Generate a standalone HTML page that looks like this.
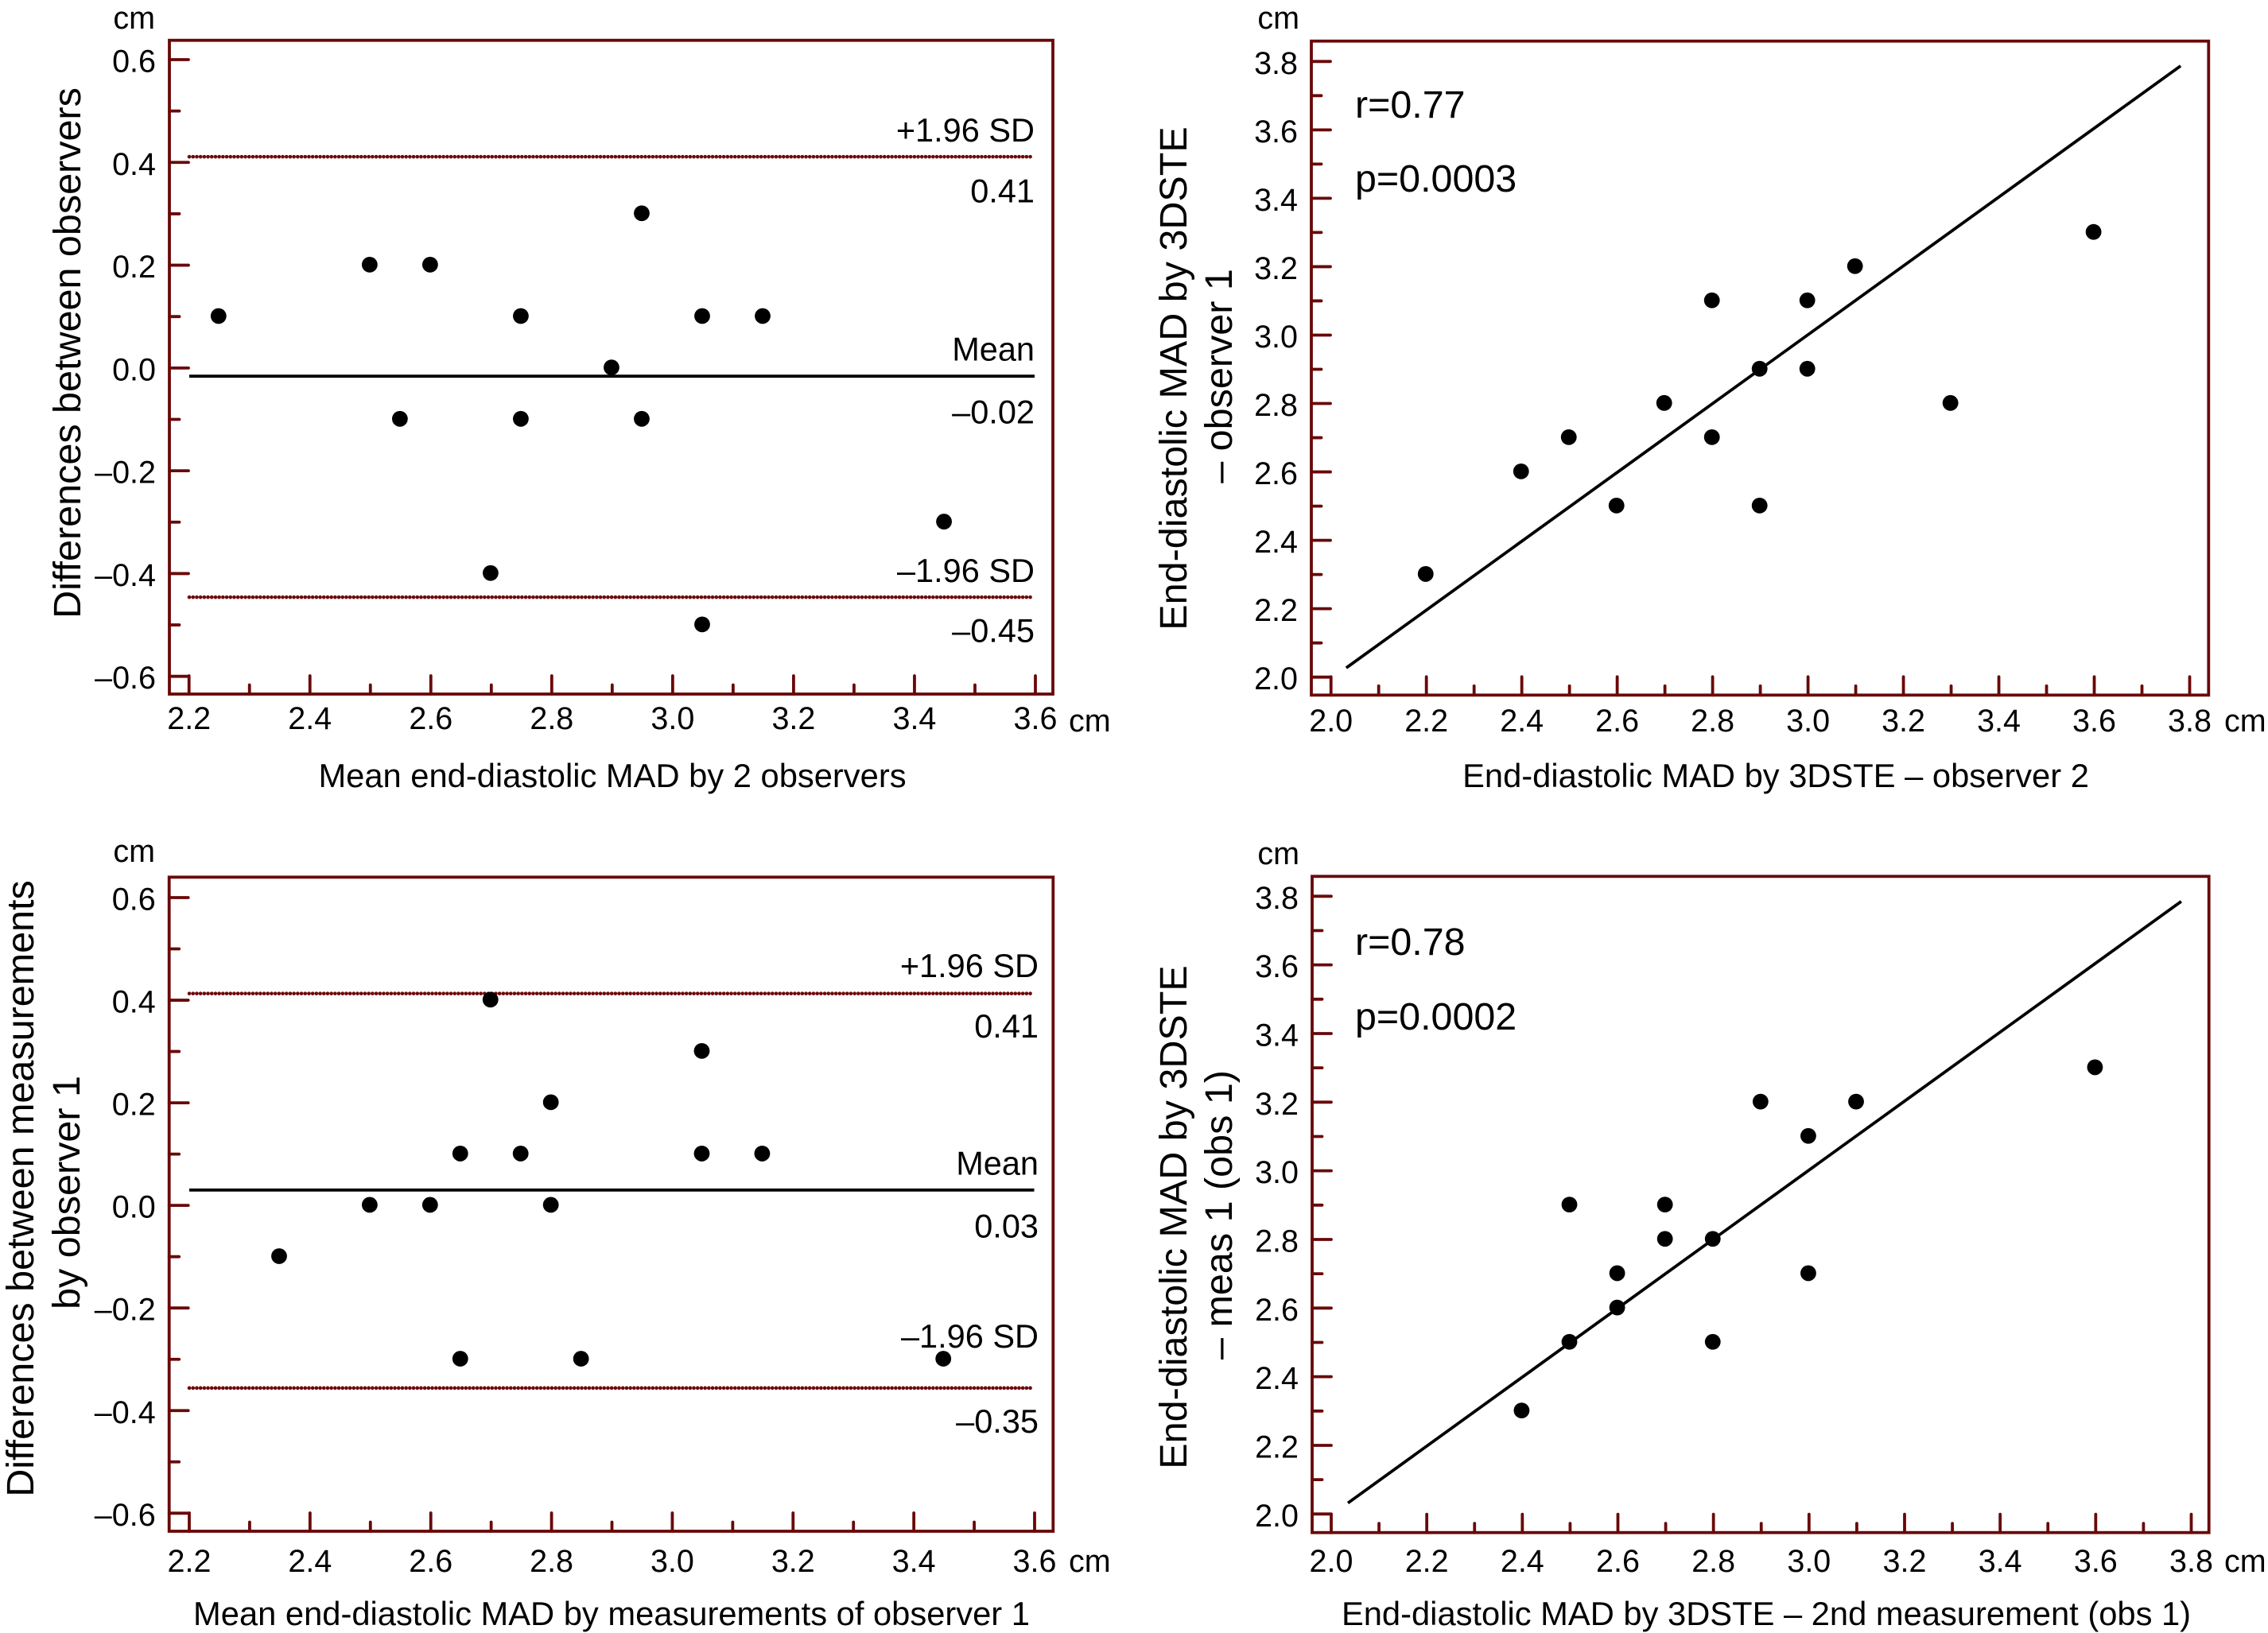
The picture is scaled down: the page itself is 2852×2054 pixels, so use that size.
<!DOCTYPE html>
<html lang="en">
<head>
<meta charset="utf-8">
<title>Bland-Altman and correlation plots of end-diastolic MAD</title>
<style>
html,body{margin:0;padding:0;background:#fff;}
svg{display:block;}
text{font-family:"Liberation Sans",Arial,sans-serif;fill:#000;}
.tick{font-size:39.5px;}
.note{font-size:41.5px;text-anchor:end;}
.title{font-size:41.7px;text-anchor:middle;}
.ytitle{font-size:48.5px;text-anchor:middle;}
.stat{font-size:48.4px;}
</style>
</head>
<body>
<svg id="figure" xmlns="http://www.w3.org/2000/svg" width="2852" height="2054" viewBox="0 0 2852 2054">
  <rect width="2852" height="2054" fill="#fff"/>

  <g id="panel-1">
    <text class="tick" x="195" y="36" text-anchor="end">cm</text>
    <text class="tick" x="1344" y="920">cm</text>
    <text class="title" x="770" y="990">Mean end-diastolic MAD by 2 observers</text>
    <text class="ytitle" transform="translate(101 444) rotate(-90)">Differences between observers</text>
    <text class="note" x="1301" y="178">+1.96 SD</text>
    <text class="note" x="1301" y="254.5">0.41</text>
    <text class="note" x="1301" y="453.5">Mean</text>
    <text class="note" x="1301" y="532.5">–0.02</text>
    <text class="note" x="1301" y="732">–1.96 SD</text>
    <text class="note" x="1301" y="807.5">–0.45</text>
  </g>

  <g id="panel-2">
    <text class="tick" x="1634" y="36" text-anchor="end">cm</text>
    <text class="tick" x="2797" y="920">cm</text>
    <text class="title" x="2233" y="990">End-diastolic MAD by 3DSTE – observer 2</text>
    <text class="ytitle" transform="translate(1492 476) rotate(-90)">End-diastolic MAD by 3DSTE</text>
    <text class="ytitle" transform="translate(1549 473) rotate(-90)">– observer 1</text>
    <text class="stat" x="1704" y="148">r=0.77</text>
    <text class="stat" x="1704" y="241">p=0.0003</text>
  </g>

  <g id="panel-3">
    <text class="tick" x="195" y="1084" text-anchor="end">cm</text>
    <text class="tick" x="1344" y="1977">cm</text>
    <text class="title" x="769" y="2044">Mean end-diastolic MAD by measurements of observer 1</text>
    <text class="ytitle" transform="translate(42 1495) rotate(-90)">Differences between measurements</text>
    <text class="ytitle" transform="translate(100 1500) rotate(-90)">by observer 1</text>
    <text class="note" x="1306" y="1229">+1.96 SD</text>
    <text class="note" x="1306" y="1305">0.41</text>
    <text class="note" x="1306" y="1477.5">Mean</text>
    <text class="note" x="1306" y="1556.5">0.03</text>
    <text class="note" x="1306" y="1695">–1.96 SD</text>
    <text class="note" x="1306" y="1802">–0.35</text>
  </g>

  <g id="panel-4">
    <text class="tick" x="1634" y="1087" text-anchor="end">cm</text>
    <text class="tick" x="2797" y="1977">cm</text>
    <text class="title" x="2221" y="2044">End-diastolic MAD by 3DSTE – 2nd measurement (obs 1)</text>
    <text class="ytitle" transform="translate(1492 1531) rotate(-90)">End-diastolic MAD by 3DSTE</text>
    <text class="ytitle" transform="translate(1549 1528) rotate(-90)">– meas 1 (obs 1)</text>
    <text class="stat" x="1704" y="1201">r=0.78</text>
    <text class="stat" x="1704" y="1295">p=0.0002</text>
  </g>
</svg>

<script>
// ---- Tick values ----
const diffMajorTicks = [-0.6, -0.4, -0.2, 0.0, 0.2, 0.4, 0.6];
const diffMinorTicks = [-0.5, -0.3, -0.1, 0.1, 0.3, 0.5];
const diffTickLabels = ['–0.6', '–0.4', '–0.2', '0.0', '0.2', '0.4', '0.6'];
const meanMajorTicks = [2.2, 2.4, 2.6, 2.8, 3.0, 3.2, 3.4, 3.6];
const meanMinorTicks = [2.3, 2.5, 2.7, 2.9, 3.1, 3.3, 3.5];
const meanTickLabels = ['2.2', '2.4', '2.6', '2.8', '3.0', '3.2', '3.4', '3.6'];
const madMajorTicks = [2.0, 2.2, 2.4, 2.6, 2.8, 3.0, 3.2, 3.4, 3.6, 3.8];
const madMinorTicks = [2.1, 2.3, 2.5, 2.7, 2.9, 3.1, 3.3, 3.5, 3.7];
const madTickLabels = ['2.0', '2.2', '2.4', '2.6', '2.8', '3.0', '3.2', '3.4', '3.6', '3.8'];

// ---- Panel 1: differences between observers ----
const p1Mean = [2.25, 2.5, 2.6, 2.55, 2.75, 2.75, 2.7, 2.9, 2.95, 2.95, 3.05, 3.05, 3.15, 3.45];
const p1Diff = [0.1, 0.2, 0.2, -0.1, 0.1, -0.1, -0.4, 0.0, 0.3, -0.1, 0.1, -0.5, 0.1, -0.3];
const p1UpperLimit = 0.411;
const p1MeanDiff = -0.016;
const p1LowerLimit = -0.446;

// ---- Panel 2: observer 1 vs observer 2 ----
const p2Obs2 = [2.2, 2.4, 2.5, 2.6, 2.7, 2.8, 2.8, 2.9, 2.9, 3.0, 3.0, 3.1, 3.3, 3.6];
const p2Obs1 = [2.3, 2.6, 2.7, 2.5, 2.8, 3.1, 2.7, 2.9, 2.5, 3.1, 2.9, 3.2, 2.8, 3.3];
const p2FitX = [2.032, 3.781];
const p2FitY = [2.027, 3.787];

// ---- Panel 3: differences between measurements ----
const p3Mean = [2.35, 2.5, 2.6, 2.65, 2.65, 2.7, 2.75, 2.8, 2.8, 2.85, 3.05, 3.05, 3.15, 3.45];
const p3Diff = [-0.1, 0.0, 0.0, 0.1, -0.3, 0.4, 0.1, 0.2, 0.0, -0.3, 0.3, 0.1, 0.1, -0.3];
const p3UpperLimit = 0.413;
const p3MeanDiff = 0.03;
const p3LowerLimit = -0.356;

// ---- Panel 4: measurement 1 vs measurement 2 ----
const p4Meas2 = [2.4, 2.5, 2.5, 2.6, 2.6, 2.7, 2.7, 2.8, 2.8, 2.9, 3.0, 3.0, 3.1, 3.6];
const p4Meas1 = [2.3, 2.9, 2.5, 2.7, 2.6, 2.9, 2.8, 2.8, 2.5, 3.2, 3.1, 2.7, 3.2, 3.3];
const p4FitX = [2.035, 3.779];
const p4FitY = [2.032, 3.785];

const NS = 'http://www.w3.org/2000/svg';
const AXIS_COLOR = '#690808';
const MAJOR_LEN = 24;
const MINOR_LEN = 12.5;

function svgEl(tag, attrs, parent) {
  const el = document.createElementNS(NS, tag);
  for (const k in attrs) el.setAttribute(k, attrs[k]);
  parent.appendChild(el);
  return el;
}

function linearScale(v0, p0, v1, p1) {
  return function (v) { return p0 + (v - v0) * (p1 - p0) / (v1 - v0); };
}

function drawFrame(g, b) {
  const el = svgEl('rect', {x: b.left, y: b.top, width: b.right - b.left, height: b.bottom - b.top, fill: 'none', stroke: AXIS_COLOR, 'stroke-width': 3.8}, g);
  
  
}

function drawXTick(g, b, px, len) {
  const el = svgEl('line', {x1: px, x2: px, y1: b.bottom, y2: b.bottom - len, stroke: AXIS_COLOR, 'stroke-width': 3.8, 'stroke-linecap': 'round'}, g);
  
  
}

function drawYTick(g, b, py, len) {
  const el = svgEl('line', {x1: b.left, x2: b.left + len, y1: py, y2: py, stroke: AXIS_COLOR, 'stroke-width': 3.8, 'stroke-linecap': 'round'}, g);
  
  
}

function drawXLabel(g, px, baseline, txt) {
  const el = svgEl('text', {x: px, y: baseline, 'text-anchor': 'middle', class: 'tick'}, g);
  el.textContent = txt;
  
  
}

function drawYLabel(g, px, py, txt) {
  const el = svgEl('text', {x: px, y: py + 15.5, 'text-anchor': 'end', class: 'tick'}, g);
  el.textContent = txt;
  
  
}

function drawDot(g, px, py) {
  const el = svgEl('circle', {cx: px - 0.9, cy: py - 0.7, r: 9.9, fill: '#000'}, g);
  
  
}

function drawLimit(g, x1, x2, py) {
  const el = svgEl('line', {x1: x1, x2: x2, y1: py, y2: py, stroke: '#6d0a0a', 'stroke-width': 4.6, 'stroke-linecap': 'round', 'stroke-dasharray': '0.1 4.6'}, g);
  
  
}

function drawMeanLine(g, x1, x2, py) {
  const el = svgEl('line', {x1: x1, x2: x2, y1: py, y2: py, stroke: '#000', 'stroke-width': 3.8}, g);
  
  
}

function drawFit(g, x1, y1, x2, y2) {
  const el = svgEl('line', {x1: x1, y1: y1, x2: x2, y2: y2, stroke: '#000', 'stroke-width': 3.8}, g);
  
  
}

function drawAxes(g, b, sx, sy, xMajor, xMinor, xLabels, yMajor, yMinor, yLabels) {
  drawFrame(g, b);
  xMajor.forEach(function (v) { drawXTick(g, b, sx(v), MAJOR_LEN - 1); });
  xMinor.forEach(function (v) { drawXTick(g, b, sx(v), MINOR_LEN - 1); });
  yMajor.forEach(function (v) { drawYTick(g, b, sy(v), MAJOR_LEN); });
  yMinor.forEach(function (v) { drawYTick(g, b, sy(v), MINOR_LEN); });
  xMajor.forEach(function (v, i) { drawXLabel(g, sx(v), b.labelBase, xLabels[i]); });
  yMajor.forEach(function (v, i) { drawYLabel(g, b.left - 17, sy(v), yLabels[i]); });
}

function agreementPanel(id, b, sx, sy, xs, ys, upper, mean, lower) {
  const g = document.getElementById(id);
  drawAxes(g, b, sx, sy, meanMajorTicks, meanMinorTicks, meanTickLabels, diffMajorTicks, diffMinorTicks, diffTickLabels);
  drawLimit(g, b.lineStart, b.lineEnd, sy(upper));
  drawMeanLine(g, b.lineStart, b.lineEnd + 1, sy(mean));
  drawLimit(g, b.lineStart, b.lineEnd, sy(lower));
  xs.forEach(function (v, i) { drawDot(g, sx(v), sy(ys[i])); });
}

function correlationPanel(id, b, sx, sy, xs, ys, fitX, fitY) {
  const g = document.getElementById(id);
  drawAxes(g, b, sx, sy, madMajorTicks, madMinorTicks, madTickLabels, madMajorTicks, madMinorTicks, madTickLabels);
  drawFit(g, sx(fitX[0]), sy(fitY[0]), sx(fitX[1]), sy(fitY[1]));
  xs.forEach(function (v, i) { drawDot(g, sx(v), sy(ys[i])); });
}

agreementPanel('panel-1',
  {left: 213, right: 1324, top: 50.7, bottom: 873, labelBase: 917, lineStart: 238, lineEnd: 1300},
  linearScale(2.2, 237.7, 3.6, 1302),
  linearScale(0.6, 75, -0.6, 850.7),
  p1Mean, p1Diff, p1UpperLimit, p1MeanDiff, p1LowerLimit);

correlationPanel('panel-2',
  {left: 1649, right: 2777.3, top: 51.7, bottom: 874.3, labelBase: 920},
  linearScale(2.0, 1673.7, 3.8, 2753.5),
  linearScale(2.0, 851.7, 3.8, 77.3),
  p2Obs2, p2Obs1, p2FitX, p2FitY);

agreementPanel('panel-3',
  {left: 212.7, right: 1324.3, top: 1103.3, bottom: 1926, labelBase: 1977, lineStart: 238, lineEnd: 1299.5},
  linearScale(2.2, 238, 3.6, 1301),
  linearScale(0.6, 1129, -0.6, 1903.3),
  p3Mean, p3Diff, p3UpperLimit, p3MeanDiff, p3LowerLimit);

correlationPanel('panel-4',
  {left: 1650, right: 2777.7, top: 1102.3, bottom: 1927.7, labelBase: 1977},
  linearScale(2.0, 1674, 3.8, 2755.5),
  linearScale(2.0, 1904.3, 3.8, 1127.3),
  p4Meas2, p4Meas1, p4FitX, p4FitY);
</script>
</body>
</html>
